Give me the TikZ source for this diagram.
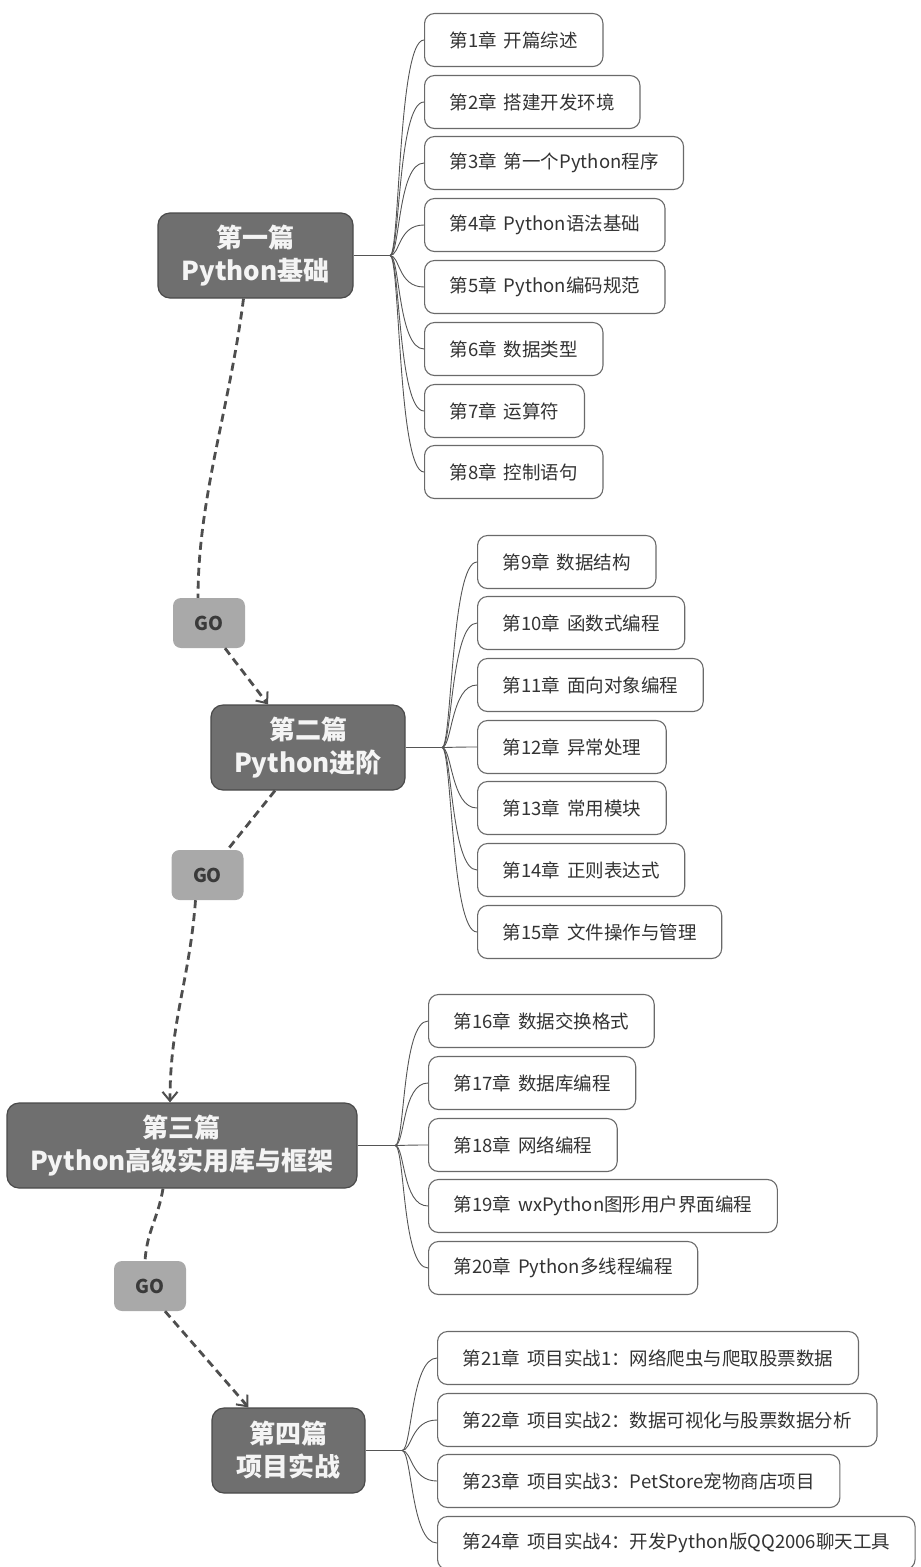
\documentclass[tikz,border=0pt]{standalone}
\usepackage{fontspec}
\setmainfont{Noto Sans CJK SC}
\usetikzlibrary{arrows.meta}
\definecolor{partfill}{HTML}{6F6F6F}
\definecolor{partdraw}{HTML}{4A4A4A}
\definecolor{gofill}{HTML}{A9A9A9}
\definecolor{gotext}{HTML}{3A3A3A}
\definecolor{boxline}{HTML}{6A6A6A}
\definecolor{txt}{HTML}{333333}
\definecolor{linkc}{HTML}{555555}
\definecolor{flowc}{HTML}{4E4E4E}
\definecolor{parttext}{HTML}{F4F4F4}
\begin{document}
\begin{tikzpicture}[x=1pt,y=-1pt,
 part/.style={draw=partdraw, line width=1.2pt, fill=partfill, rounded corners=12pt, text=parttext,
   font=\fontsize{26}{33}\selectfont\bfseries, align=center, inner sep=0pt, minimum height=85pt},
 gobox/.style={fill=gofill, rounded corners=8pt, minimum width=72pt, minimum height=50pt,
   font=\fontsize{19}{22}\selectfont\bfseries, text=gotext, inner sep=0pt},
 chap/.style={draw=boxline, line width=1.1pt, rounded corners=10pt, fill=white, minimum height=53pt,
   inner xsep=25pt, inner ysep=0pt, anchor=west, text=txt, font=\fontsize{18.5}{22}\selectfont},
 branch/.style={draw=linkc, line width=0.9pt},
 flow/.style={draw=flowc, line width=2.8pt, dash pattern=on 8pt off 5pt},
 flowarrow/.style={flow, -{Straight Barb[length=9pt,width=15pt,line width=2pt]}},
]
\useasboundingbox (0,0) rectangle (921,1567);
\clip (0,0) rectangle (921,1567);

% part nodes
\node[part, minimum width=195pt] (P1) at (255.5,255.5) {第一篇\\Python基础};
\node[part, minimum width=194pt] (P2) at (308,747.5) {第二篇\\Python进阶};
\node[part, minimum width=350pt] (P3) at (182,1145.5) {第三篇\\Python高级实用库与框架};
\node[part, minimum width=153pt] (P4) at (288.5,1450.5) {第四篇\\项目实战};

% GO nodes
\node[gobox] (G1) at (209,623) {GO};
\node[gobox] (G2) at (207.5,875) {GO};
\node[gobox] (G3) at (150,1286) {GO};

% branch points
\coordinate (B1) at (390,255.5);
\coordinate (B2) at (442,747.5);
\coordinate (B3) at (395,1145.5);
\coordinate (B4) at (402,1450.5);

% chapters part 1
\node[chap] (c1) at (424,40) {第1章\hspace{3pt} 开篇综述};
\node[chap] (c2) at (424,102) {第2章\hspace{3pt} 搭建开发环境};
\node[chap] (c3) at (424,163) {第3章\hspace{3pt} 第一个Python程序};
\node[chap] (c4) at (424,225) {第4章\hspace{3pt} Python语法基础};
\node[chap] (c5) at (424,287) {第5章\hspace{3pt} Python编码规范};
\node[chap] (c6) at (424,349) {第6章\hspace{3pt} 数据类型};
\node[chap] (c7) at (424,411) {第7章\hspace{3pt} 运算符};
\node[chap] (c8) at (424,472) {第8章\hspace{3pt} 控制语句};
% part 2
\node[chap] (c9) at (477,562) {第9章\hspace{3pt} 数据结构};
\node[chap] (c10) at (477,623) {第10章\hspace{3pt} 函数式编程};
\node[chap] (c11) at (477,685) {第11章\hspace{3pt} 面向对象编程};
\node[chap] (c12) at (477,747) {第12章\hspace{3pt} 异常处理};
\node[chap] (c13) at (477,808) {第13章\hspace{3pt} 常用模块};
\node[chap] (c14) at (477,870) {第14章\hspace{3pt} 正则表达式};
\node[chap] (c15) at (477,932) {第15章\hspace{3pt} 文件操作与管理};
% part 3
\node[chap] (c16) at (428,1021) {第16章\hspace{3pt} 数据交换格式};
\node[chap] (c17) at (428,1083) {第17章\hspace{3pt} 数据库编程};
\node[chap] (c18) at (428,1145) {第18章\hspace{3pt} 网络编程};
\node[chap] (c19) at (428,1206) {第19章\hspace{3pt} wxPython图形用户界面编程};
\node[chap] (c20) at (428,1268) {第20章\hspace{3pt} Python多线程编程};
% part 4
\node[chap] (c21) at (437,1358) {第21章\hspace{3pt} 项目实战1：网络爬虫与爬取股票数据};
\node[chap] (c22) at (437,1420) {第22章\hspace{3pt} 项目实战2：数据可视化与股票数据分析};
\node[chap] (c23) at (437,1481) {第23章\hspace{3pt} 项目实战3：PetStore宠物商店项目};
\node[chap] (c24) at (437,1543) {第24章\hspace{3pt} 项目实战4：开发Python版QQ2006聊天工具};

% branch connectors
\draw[branch] (P1.east) -- (B1);
\foreach \c in {c1,c2,c3,c4,c5,c6,c7,c8}
  \draw[branch] (B1) .. controls +(10,0) and +(-26,0) .. (\c.west);
\draw[branch] (P2.east) -- (B2);
\foreach \c in {c9,c10,c11,c12,c13,c14,c15}
  \draw[branch] (B2) .. controls +(10,0) and +(-26,0) .. (\c.west);
\draw[branch] (P3.east) -- (B3);
\foreach \c in {c16,c17,c18,c19,c20}
  \draw[branch] (B3) .. controls +(10,0) and +(-26,0) .. (\c.west);
\draw[branch] (P4.east) -- (B4);
\foreach \c in {c21,c22,c23,c24}
  \draw[branch] (B4) .. controls +(10,0) and +(-26,0) .. (\c.west);

% flow connectors
\draw[flow] ([xshift=-12pt]P1.south) .. controls +(-14,110) and +(0,-100) .. ([xshift=-11pt]G1.north);
\draw[flowarrow] ([xshift=16pt]G1.south) -- ([xshift=-40pt]P2.north);
\draw[flow] ([xshift=-33pt]P2.south) -- ([xshift=20pt]G2.north);
\draw[flowarrow] ([xshift=-12pt]G2.south) .. controls +(-6,80) and +(0,-80) .. ([xshift=-12pt]P3.north);
\draw[flow] ([xshift=-19pt]P3.south) .. controls +(-5,30) and +(2,-30) .. ([xshift=-5pt]G3.north);
\draw[flowarrow] ([xshift=15pt]G3.south) -- ([xshift=-40pt]P4.north);
\end{tikzpicture}
\end{document}
